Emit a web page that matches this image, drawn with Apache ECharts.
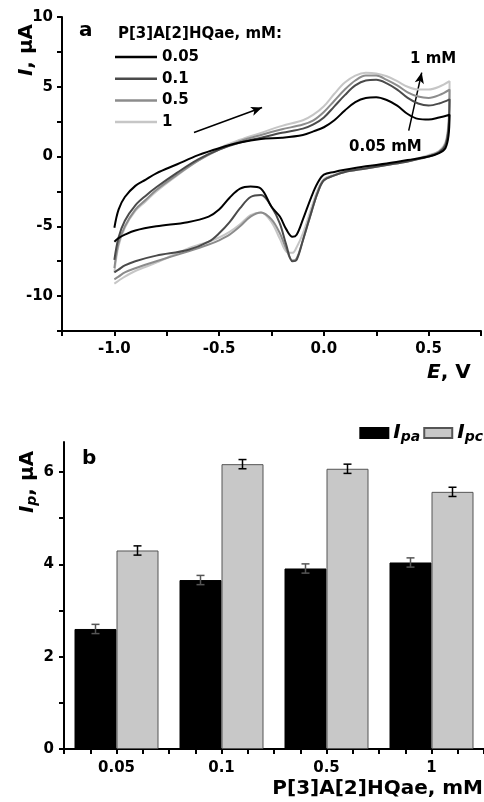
<!DOCTYPE html>
<html><head><meta charset="utf-8">
<script src="https://cdn.jsdelivr.net/npm/echarts@6/dist/echarts.min.js"></script>
<style>html,body{margin:0;padding:0;background:#fff}#c{width:484px;height:802px}</style>
</head><body><div id="c"></div>
<script>
// ---------- Panel a: cyclic voltammograms ----------
const concNames = ['0.05', '0.1', '0.5', '1'];
const fwdE = [-1.0, -0.98, -0.95, -0.9, -0.85, -0.8, -0.7, -0.6, -0.5, -0.4, -0.3, -0.2, -0.1, -0.05, 0.0, 0.05, 0.1, 0.15, 0.2, 0.25, 0.3, 0.35, 0.4, 0.45, 0.5, 0.55, 0.6];
const revE = [0.6, 0.595, 0.58, 0.55, 0.5, 0.4, 0.3, 0.2, 0.1, 0.05, 0.0, -0.03, -0.06, -0.1, -0.13, -0.15, -0.18, -0.21, -0.25, -0.3, -0.35, -0.4, -0.45, -0.5, -0.55, -0.65, -0.8, -0.9, -0.95, -0.98, -1.0];

const fwdI_005 = [-5.1, -3.8, -2.9, -2.1, -1.65, -1.2, -0.55, 0.1, 0.6, 1.0, 1.25, 1.35, 1.55, 1.8, 2.1, 2.6, 3.3, 3.9, 4.2, 4.25, 4.05, 3.65, 3.05, 2.7, 2.65, 2.8, 3.0];
const revI_005 = [3.0, 1.5, 0.6, 0.25, 0.0, -0.25, -0.5, -0.7, -0.95, -1.1, -1.3, -1.9, -2.9, -4.5, -5.6, -5.75, -5.2, -4.3, -3.6, -2.3, -2.15, -2.3, -2.95, -3.8, -4.3, -4.7, -5.0, -5.3, -5.6, -5.85, -6.1];

const fwdI_01 = [-7.4, -5.8, -4.6, -3.5, -2.8, -2.2, -1.15, -0.2, 0.5, 1.0, 1.35, 1.7, 2.0, 2.3, 2.8, 3.6, 4.4, 5.1, 5.45, 5.5, 5.25, 4.8, 4.2, 3.8, 3.65, 3.8, 4.1];
const revI_01 = [4.1, 2.0, 0.8, 0.3, 0.0, -0.35, -0.6, -0.85, -1.1, -1.35, -1.7, -2.6, -4.0, -6.0, -7.4, -7.5, -6.3, -4.8, -3.6, -2.75, -2.9, -3.7, -4.7, -5.5, -6.1, -6.7, -7.1, -7.5, -7.8, -8.1, -8.3];

const fwdI_05 = [-8.0, -6.2, -5.0, -3.8, -3.1, -2.4, -1.3, -0.3, 0.5, 1.1, 1.55, 1.95, 2.3, 2.6, 3.2, 4.0, 4.8, 5.45, 5.8, 5.8, 5.5, 5.1, 4.6, 4.3, 4.2, 4.4, 4.8];
const revI_05 = [4.8, 2.2, 0.9, 0.35, 0.05, -0.35, -0.6, -0.85, -1.1, -1.35, -1.7, -2.6, -4.0, -6.0, -7.3, -7.45, -6.6, -5.5, -4.5, -4.0, -4.3, -5.0, -5.6, -6.0, -6.3, -6.8, -7.5, -8.0, -8.3, -8.6, -8.8];

const fwdI_1 = [-8.3, -6.4, -5.1, -3.9, -3.2, -2.5, -1.35, -0.3, 0.6, 1.2, 1.7, 2.2, 2.6, 3.0, 3.6, 4.5, 5.3, 5.8, 6.0, 5.95, 5.75, 5.4, 5.0, 4.8, 4.8, 5.0, 5.4];
const revI_1 = [5.4, 2.5, 1.0, 0.4, 0.1, -0.3, -0.55, -0.8, -1.05, -1.3, -1.6, -2.4, -3.7, -5.5, -6.5, -6.9, -6.8, -5.9, -4.7, -4.0, -4.2, -4.85, -5.4, -5.8, -6.1, -6.6, -7.6, -8.2, -8.6, -8.9, -9.1];

// annotation arrows (data units): [startE, startI, endE, endI]
const scanArrow = [-0.62, 1.72, -0.295, 3.51];
const concArrow = [0.405, 1.86, 0.467, 6.02];

// axis ticks
const cvXTicks = [-1.0, -0.5, 0.0, 0.5];
const cvYTicks = [-10, -5, 0, 5, 10];

// ---------- Panel b: peak currents ----------
const barCats = ['0.05', '0.1', '0.5', '1'];
const ipa = [2.60, 3.66, 3.91, 4.04];
const ipaErr = [0.1, 0.1, 0.1, 0.1];
const ipc = [4.30, 6.17, 6.07, 5.57];
const ipcErr = [0.1, 0.1, 0.1, 0.1];
const barYTicks = [0, 1, 2, 3, 4, 5, 6];
const barYLabels = [0, 2, 4, 6];

const FONT = 'DejaVu Sans';
const cvColors = ['#000000', '#4a4a4a', '#8c8c8c', '#c6c6c6'];

function curve(fI, rI) {
  const pts = [];
  fwdE.forEach((e, i) => pts.push([e, fI[i]]));
  revE.forEach((e, i) => { if (i > 0) pts.push([e, rI[i]]); });
  return pts;
}
const curves = [curve(fwdI_005, revI_005), curve(fwdI_01, revI_01), curve(fwdI_05, revI_05), curve(fwdI_1, revI_1)];

const axisCommon = {
  axisLine: { show: true, onZero: false, lineStyle: { color: '#000', width: 2 } },
  axisTick: { show: true, length: 5, lineStyle: { color: '#000', width: 2 } },
  splitLine: { show: false },
  axisLabel: { color: '#000', fontFamily: FONT, fontWeight: 'bold', fontSize: 15 }
};

const cvSeries = curves.map((d, k) => ({
  name: concNames[k],
  type: 'line',
  xAxisIndex: 0, yAxisIndex: 0,
  data: d,
  symbol: 'none',
  smooth: 0.35,
  z: 10 - k,
  lineStyle: { color: cvColors[k], width: 2 },
  itemStyle: { color: cvColors[k] },
  silent: true
}));
cvSeries[0].markLine = {
  silent: true,
  symbol: ['none', 'arrow'],
  symbolSize: [7, 11],
  label: { show: false },
  lineStyle: { color: '#000', width: 1.5, type: 'solid' },
  data: [
    [{ coord: [scanArrow[0], scanArrow[1]] }, { coord: [scanArrow[2], scanArrow[3]] }],
    [{ coord: [concArrow[0], concArrow[1]] }, { coord: [concArrow[2], concArrow[3]] }]
  ]
};

function errSeries(name, vals, errs, side, color) {
  return {
    name: name,
    type: 'custom',
    xAxisIndex: 1, yAxisIndex: 1,
    z: 20,
    silent: true,
    data: vals.map((v, i) => [i, v, errs[i]]),
    renderItem: function (params, api) {
      const i = api.value(0), v = api.value(1), e = api.value(2);
      const band = api.size([1, 0])[0];
      const x = api.coord([i, v])[0] + side * band * 0.2;
      const yt = api.coord([i, v + e])[1];
      const yb = api.coord([i, v - e])[1];
      const cap = 4;
      const st = { stroke: color, lineWidth: 1.5 };
      return { type: 'group', children: [
        { type: 'line', shape: { x1: x, y1: yt, x2: x, y2: yb }, style: st },
        { type: 'line', shape: { x1: x - cap, y1: yt, x2: x + cap, y2: yt }, style: st },
        { type: 'line', shape: { x1: x - cap, y1: yb, x2: x + cap, y2: yb }, style: st }
      ]};
    }
  };
}

const option = {
  animation: false,
  backgroundColor: '#fff',
  textStyle: { fontFamily: FONT },
  grid: [
    { left: 62, top: 17, width: 420, height: 314, containLabel: false },
    { left: 64, top: 442, width: 420, height: 307, containLabel: false }
  ],
  xAxis: [
    Object.assign({}, axisCommon, {
      type: 'value', gridIndex: 0, min: -1.25, max: 0.75, interval: 0.25,
      axisLabel: Object.assign({}, axisCommon.axisLabel, { margin: 11,
        formatter: v => cvXTicks.some(t => Math.abs(t - v) < 1e-6) ? v.toFixed(1) : '' })
    }),
    Object.assign({}, axisCommon, {
      type: 'category', gridIndex: 1, data: barCats, boundaryGap: true,
      axisTick: { show: false },
      axisLabel: Object.assign({}, axisCommon.axisLabel, { margin: 12, interval: 0 })
    }),
    {
      type: 'value', gridIndex: 1, min: 0.5, max: 4.5, interval: 0.25, position: 'bottom',
      axisLine: { show: false }, axisLabel: { show: false }, splitLine: { show: false },
      axisTick: { show: true, length: 5, lineStyle: { color: '#000', width: 2 } }
    }
  ],
  yAxis: [
    Object.assign({}, axisCommon, {
      type: 'value', gridIndex: 0, min: -12.5, max: 10, interval: 2.5,
      axisLabel: Object.assign({}, axisCommon.axisLabel, { margin: 9,
        formatter: v => cvYTicks.indexOf(v) >= 0 ? String(v) : '' })
    }),
    Object.assign({}, axisCommon, {
      type: 'value', gridIndex: 1, min: 0, max: 6.65,
      axisTick: Object.assign({}, axisCommon.axisTick, { customValues: barYTicks }),
      axisLabel: Object.assign({}, axisCommon.axisLabel, { margin: 10, customValues: barYLabels })
    })
  ],
  legend: [
    {
      data: concNames, orient: 'vertical', left: 115, top: 47, padding: 0,
      icon: 'rect', itemWidth: 42, itemHeight: 2.5, itemGap: 1.7,
      textStyle: { color: '#000', fontFamily: FONT, fontWeight: 'bold', fontSize: 15, lineHeight: 20 },
      selectedMode: false
    },
    {
      data: ['Ipa', 'Ipc'], orient: 'horizontal', right: 1, top: 423, padding: 0,
      icon: 'rect', itemWidth: 28, itemHeight: 10, itemGap: 3,
      selectedMode: false,
      formatter: n => n === 'Ipa' ? '{i|I}{s|pa}' : '{i|I}{s|pc}',
      textStyle: {
        color: '#000', fontFamily: FONT,
        rich: {
          i: { fontSize: 20, fontWeight: 'bold', fontStyle: 'italic', fontFamily: FONT, color: '#000' },
          s: { fontSize: 14, fontWeight: 'bold', fontStyle: 'italic', fontFamily: FONT, color: '#000', padding: [9, 0, 0, 0] }
        }
      }
    }
  ],
  graphic: [
    { type: 'text', left: 79, top: 21, style: { text: 'a', font: 'bold 20px "DejaVu Sans"', fill: '#000' } },
    { type: 'text', left: 118, top: 27, style: { text: 'P[3]A[2]HQae, mM:', font: 'bold 15px "DejaVu Sans"', fill: '#000' } },
    { type: 'text', left: 410, top: 52, style: { text: '1 mM', font: 'bold 15px "DejaVu Sans"', fill: '#000' } },
    { type: 'text', left: 349, top: 140, style: { text: '0.05 mM', font: 'bold 15px "DejaVu Sans"', fill: '#000' } },
    { type: 'text', left: 427, top: 363, style: {
      text: '{i|E}{n|, V}', rich: {
        i: { fontSize: 20, fontWeight: 'bold', fontStyle: 'italic', fontFamily: FONT, fill: '#000' },
        n: { fontSize: 20, fontWeight: 'bold', fontFamily: FONT, fill: '#000' } } } },
    { type: 'text', x: 27, y: 50, rotation: Math.PI / 2, style: {
      text: '{i|I}{n|, µA}', align: 'center', verticalAlign: 'middle', rich: {
        i: { fontSize: 20, fontWeight: 'bold', fontStyle: 'italic', fontFamily: FONT, fill: '#000' },
        n: { fontSize: 20, fontWeight: 'bold', fontFamily: FONT, fill: '#000' } } } },
    { type: 'text', left: 82, top: 449, style: { text: 'b', font: 'bold 20px "DejaVu Sans"', fill: '#000' } },
    { type: 'text', x: 28, y: 482, rotation: Math.PI / 2, style: {
      text: '{i|I}{s|p}{n|, µA}', align: 'center', verticalAlign: 'middle', rich: {
        i: { fontSize: 20, fontWeight: 'bold', fontStyle: 'italic', fontFamily: FONT, fill: '#000' },
        s: { fontSize: 14, fontWeight: 'bold', fontStyle: 'italic', fontFamily: FONT, fill: '#000', padding: [9, 0, 0, 0] },
        n: { fontSize: 20, fontWeight: 'bold', fontFamily: FONT, fill: '#000' } } } },
    { type: 'text', right: 1, top: 779, style: { text: 'P[3]A[2]HQae, mM', font: 'bold 20px "DejaVu Sans"', fill: '#000' } }
  ],
  series: cvSeries.concat([
    {
      name: 'Ipa', type: 'bar', xAxisIndex: 1, yAxisIndex: 1, data: ipa,
      barGap: '0%', barCategoryGap: '20%',
      itemStyle: { color: '#000000', borderColor: '#000', borderWidth: 1 }, silent: true
    },
    {
      name: 'Ipc', type: 'bar', xAxisIndex: 1, yAxisIndex: 1, data: ipc,
      barGap: '0%', barCategoryGap: '20%',
      itemStyle: { color: '#c8c8c8', borderColor: '#555', borderWidth: 1 }, silent: true
    },
    errSeries('ipaErr', ipa, ipaErr, -1, '#555555'),
    errSeries('ipcErr', ipc, ipcErr, 1, '#000000')
  ])
};

const chart = echarts.init(document.getElementById('c'), null, { renderer: 'canvas' });
chart.setOption(option);
</script>
</body></html>
